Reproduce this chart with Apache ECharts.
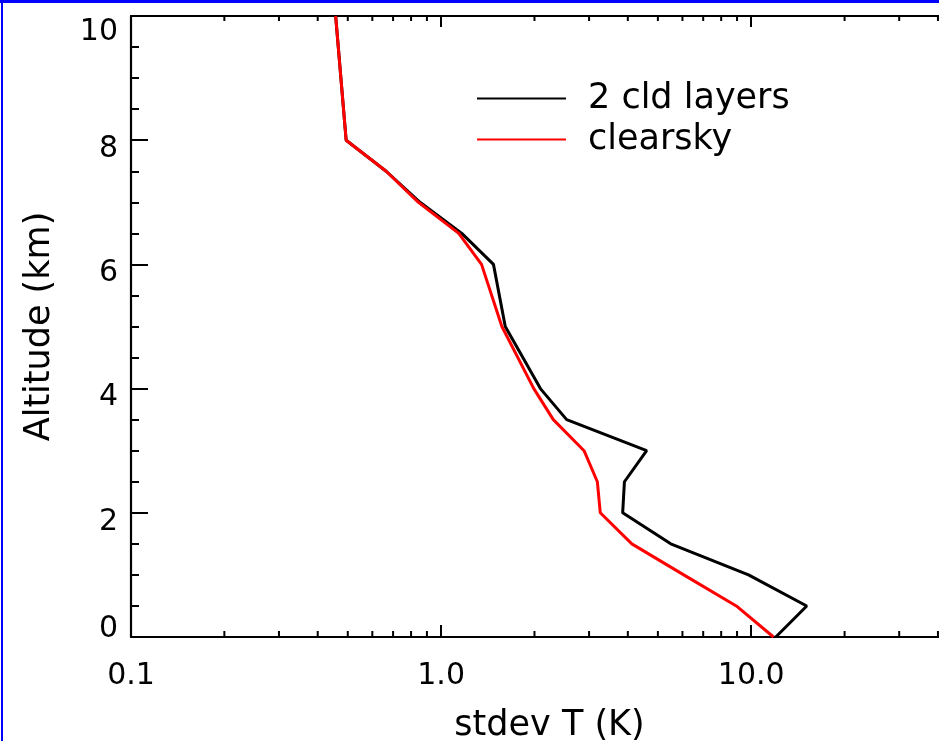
<!DOCTYPE html>
<html>
<head>
<meta charset="utf-8">
<script src="https://cdn.jsdelivr.net/npm/echarts@6/dist/echarts.min.js"></script>
<style>html,body{margin:0;padding:0;background:#fff}#c{width:939px;height:741px}</style>
</head>
<body>
<div id="c"></div>
<script>
const altitude   = [0, 0.5, 1, 1.5, 2, 2.5, 3, 3.5, 4, 5, 6, 6.5, 7, 7.5, 8, 10];
const cldLayers  = [12.0, 15.1, 9.8, 5.5, 3.85, 3.9, 4.6, 2.54, 2.09, 1.61, 1.475, 1.166, 0.855, 0.665, 0.494, 0.457];
const clearsky   = [11.8, 8.95, 6.06, 4.12, 3.26, 3.19, 2.89, 2.30, 1.99, 1.57, 1.35, 1.14, 0.845, 0.665, 0.494, 0.457];
const seriesNames = ['2 cld layers', 'clearsky'];
const xMinorTicks = [0.2,0.3,0.4,0.5,0.6,0.7,0.8,0.9,2,3,4,5,6,7,8,9,20,30,40];
const xTickLabels = {'-1': '0.1', '0': '1.0', '1': '10.0'};

const FONT = 'DejaVu Sans';
const chart = echarts.init(document.getElementById('c'), null, {renderer: 'canvas'});

function xLabel(v) {
  const l = Math.log10(v);
  const r = Math.round(l);
  if (Math.abs(l - r) > 1e-6) return '';
  return xTickLabels[String(r)] || '';
}

const option = {
  animation: false,
  backgroundColor: '#fff',
  textStyle: {fontFamily: FONT},
  grid: {left: 131, top: 16, width: 837, height: 621, containLabel: false, outerBoundsMode: 'none'},
  legend: {
    orient: 'vertical', left: 476, top: 81, padding: 0, itemWidth: 89, itemHeight: 2, itemGap: 6,
    itemStyle: {opacity: 0},
    textStyle: {fontFamily: FONT, fontSize: 35, color: '#000', padding: [0, 0, 0, 17]},
    data: seriesNames.map(n => ({name: n}))
  },
  xAxis: [{
    type: 'log', logBase: 10, min: 0.1, max: 50, position: 'bottom',
    name: 'stdev T (K)', nameLocation: 'middle', nameGap: 71,
    nameTextStyle: {fontFamily: FONT, fontSize: 35, color: '#000'},
    axisLine: {lineStyle: {color: '#000', width: 2.2}},
    axisTick: {inside: true, length: 12, lineStyle: {color: '#000', width: 2}},
    axisLabel: {formatter: xLabel, fontFamily: FONT, fontSize: 30, color: '#000', margin: 24},
    splitLine: {show: false}
  }, {
    type: 'log', logBase: 10, min: 0.1, max: 50, position: 'top',
    axisLine: {lineStyle: {color: '#000', width: 2.2}},
    axisTick: {inside: true, length: 11, lineStyle: {color: '#000', width: 2}},
    axisLabel: {show: false},
    splitLine: {show: false}
  }],
  yAxis: {
    type: 'value', min: 0, max: 10, interval: 2,
    name: 'Altitude (km)', nameLocation: 'middle', nameGap: 74, nameRotate: 90,
    nameTextStyle: {fontFamily: FONT, fontSize: 35, color: '#000'},
    axisLine: {lineStyle: {color: '#000', width: 2.2}},
    axisTick: {inside: true, length: 17, lineStyle: {color: '#000', width: 2}},
    minorTick: {show: true, splitNumber: 4, length: 8, lineStyle: {color: '#000', width: 2}},
    axisLabel: {
      fontFamily: FONT, fontSize: 30, color: '#000', margin: 13,
      formatter: v => v === 10 ? '{t|10}' : v === 0 ? '{b|0}' : '{n|' + v + '}',
      rich: {
        t: {fontFamily: FONT, fontSize: 30, color: '#000', padding: [33,0,0,0]},
        b: {fontFamily: FONT, fontSize: 30, color: '#000', padding: [0,0,16,0]},
        n: {fontFamily: FONT, fontSize: 30, color: '#000', padding: [18,0,0,0]}
      }
    },
    splitLine: {show: false}
  },
  graphic: [
    {type: 'rect', shape: {x: 0, y: 0, width: 939, height: 3}, style: {fill: '#0000ff'}, z: 100},
    {type: 'rect', shape: {x: 1, y: 0, width: 2, height: 741}, style: {fill: '#0000ff'}, z: 100}
  ],
  series: [{
    name: seriesNames[0], type: 'line', showSymbol: false, symbol: 'none',
    lineStyle: {color: '#000', width: 3}, itemStyle: {color: '#000'},
    data: altitude.map((a, i) => [cldLayers[i], a]), z: 2
  }, {
    name: seriesNames[1], type: 'line', showSymbol: false, symbol: 'none',
    lineStyle: {color: '#ff0000', width: 3}, itemStyle: {color: '#ff0000'},
    data: altitude.map((a, i) => [clearsky[i], a]), z: 3
  }, {
    type: 'custom', silent: true, clip: false,
    data: xMinorTicks.map(v => [v]),
    encode: {x: 0},
    renderItem: function (params, api) {
      const v = api.value(0);
      const b = api.coord([v, 0]);
      const t = api.coord([v, 10]);
      const st = {stroke: '#000', lineWidth: 2};
      return {type: 'group', children: [
        {type: 'line', shape: {x1: b[0], y1: b[1], x2: b[0], y2: b[1] - 6}, style: st},
        {type: 'line', shape: {x1: t[0], y1: t[1], x2: t[0], y2: t[1] + 5}, style: st}
      ]};
    }
  }]
};
chart.setOption(option);
</script>
</body>
</html>
